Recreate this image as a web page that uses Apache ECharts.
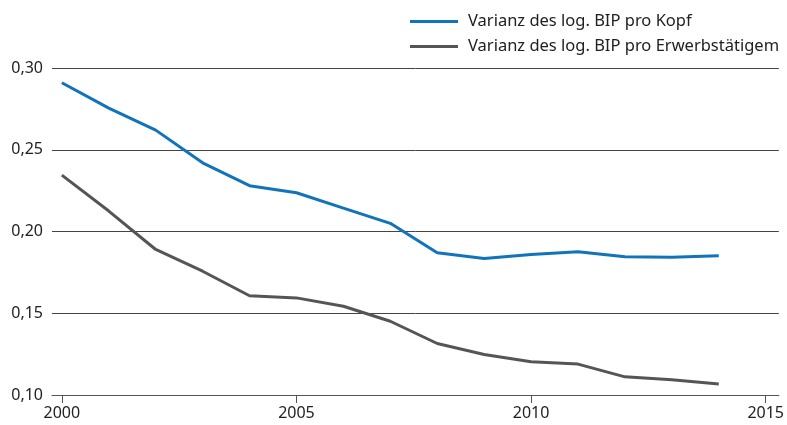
<!DOCTYPE html>
<html>
<head>
<meta charset="utf-8">
<script src="https://cdn.jsdelivr.net/npm/echarts@6/dist/echarts.min.js"></script>
<style>
  html, body { margin: 0; padding: 0; background: #fff; }
  #chart { width: 787px; height: 425px; }
</style>
</head>
<body>
<div id="chart"></div>
<script>
const years = [2000, 2001, 2002, 2003, 2004, 2005, 2006, 2007, 2008, 2009, 2010, 2011, 2012, 2013, 2014]
const proKopf = [0.291, 0.2755, 0.262, 0.242, 0.228, 0.2237, 0.2143, 0.205, 0.187, 0.1835, 0.186, 0.1876, 0.1845, 0.1842, 0.1851]
const proErwerb = [0.2345, 0.2125, 0.189, 0.1757, 0.1607, 0.1594, 0.1543, 0.1451, 0.1315, 0.1248, 0.1203, 0.1189, 0.1111, 0.1093, 0.1068]
const xTicks = [2000, 2005, 2010, 2015]
const seriesNames = ['Varianz des log. BIP pro Kopf', 'Varianz des log. BIP pro Erwerbstätigem']

const font = '"Noto Sans", sans-serif'
const chart = echarts.init(document.getElementById('chart'))

chart.setOption({
  animation: false,
  textStyle: { fontFamily: font },
  grid: { left: 52, right: 6, top: 68, bottom: 30 },
  legend: {
    orient: 'vertical',
    left: 405,
    top: 8,
    itemWidth: 48,
    itemHeight: 3,
    itemGap: 8,
    icon: 'rect',
    textStyle: { fontSize: 16.5, color: '#222', fontFamily: font, padding: [0, 0, 0, 5] },
    data: seriesNames
  },
  xAxis: {
    type: 'value',
    min: 1999.79,
    max: 2015.28,
    axisLine: { show: true, lineStyle: { color: '#555', width: 1 } },
    axisTick: { show: true, length: 8, customValues: xTicks, lineStyle: { color: '#555' } },
    axisLabel: { customValues: xTicks, fontSize: 16, color: '#222', margin: 10, formatter: v => String(v) },
    splitLine: { show: false }
  },
  yAxis: {
    type: 'value',
    min: 0.1,
    max: 0.3,
    interval: 0.05,
    axisLine: { show: false },
    axisTick: { show: false },
    axisLabel: { fontSize: 16, color: '#222', margin: 9, formatter: v => v.toFixed(2).replace('.', ',') },
    splitLine: { show: true, lineStyle: { color: '#444', width: 1 } }
  },
  series: [
    {
      name: seriesNames[0],
      type: 'line',
      symbol: 'none',
      lineStyle: { width: 3, color: '#1174bb' },
      itemStyle: { color: '#1174bb' },
      data: years.map((y, i) => [y, proKopf[i]])
    },
    {
      name: seriesNames[1],
      type: 'line',
      symbol: 'none',
      lineStyle: { width: 3, color: '#555555' },
      itemStyle: { color: '#555555' },
      data: years.map((y, i) => [y, proErwerb[i]])
    }
  ]
})
</script>
</body>
</html>
